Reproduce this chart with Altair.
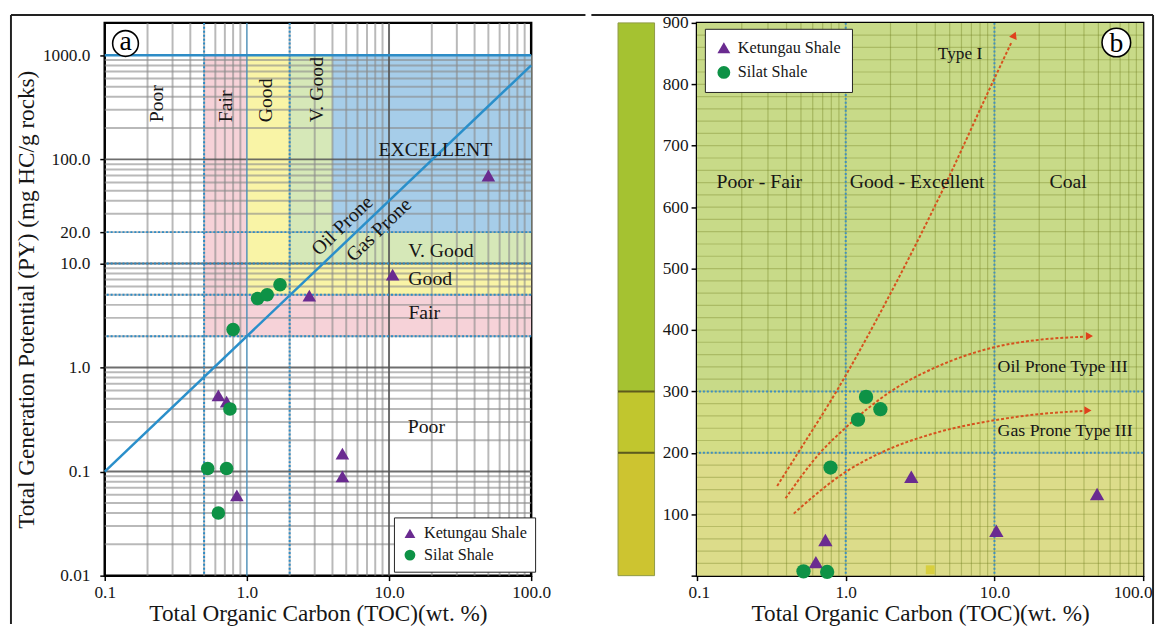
import altair as alt
import pandas as pd

FONT = "Liberation Serif"
INK = "#161616"
PURPLE = "#6a2b90"
GREEN = "#0e9246"
BLUE = "#2d8cc6"
RED = "#d6521e"
FORMS = ["Ketungau Shale", "Silat Shale"]

# ---------------- panel (a): TOC vs PY (log-log) ----------------
ket_a_toc = [50.0, 10.6, 2.75, 0.63, 0.72, 4.7, 4.7, 0.85]
ket_a_py = [70.0, 7.8, 4.9, 0.54, 0.47, 0.149, 0.090, 0.059]
sil_a_toc = [1.19, 1.39, 1.71, 0.80, 0.76, 0.53, 0.72, 0.63]
sil_a_py = [4.6, 5.0, 6.25, 2.32, 0.40, 0.107, 0.107, 0.040]

zone_toc_min = [0.5, 1.0, 2.0, 4.0]
zone_py_min = [2.0, 5.0, 10.0, 20.0]
zone_colors = ["#f6d2d8", "#f9f4a6", "#d6e8b8", "#a6cde9"]

diag_toc = [0.1, 100.0]
diag_py = [0.1, 800.0]

a_ticks_x = [0.1, 1, 10, 100]
a_ticks_y = [0.01, 0.1, 1, 10, 20, 100, 1000]
a_dot_x = [0.5, 2.0]
a_dot_y = [2.0, 5.0, 10.0, 20.0]

col_lbl_text = ["Poor", "Fair", "Good", "V. Good"]
col_lbl_toc = [0.232, 0.714, 1.37, 3.14]
col_lbl_py = [227, 227, 227, 227]

row_lbl_text = ["EXCELLENT", "V. Good", "Good", "Fair", "Poor"]
row_lbl_toc = [21.2, 23.2, 19.5, 17.7, 18.3]
row_lbl_py = [124, 13.2, 7.1, 3.3, 0.265]

prone_text = ["Oil Prone", "Gas Prone"]
prone_toc = [4.7, 8.5]
prone_py = [23.0, 21.0]

# ---------------- panel (b): TOC vs HI ----------------
ket_b_toc = [2.76, 49.0, 10.3, 0.73, 0.63]
ket_b_hi = [161, 133, 73, 58, 22]
sil_b_toc = [1.37, 1.71, 1.21, 0.79, 0.52, 0.75]
sil_b_hi = [291, 271, 254, 176, 7, 6]

band_lo = [0, 200, 300]
band_hi = [200, 300, 900]
band_colors = ["#dcdc8a", "#d3dd86", "#c8da88"]
bar_colors = ["#cdc430", "#c1c62e", "#a5c231"]

typeI_toc = [0.346, 0.478, 0.866, 1.86, 4.7, 9.5, 13.0]
typeI_hi = [146, 200, 300, 445, 638, 798, 868]
oil_toc = [0.394, 0.672, 1.0, 2.01, 4.1, 10.0, 20.0, 40.0]
oil_hi = [126, 200, 241, 300, 340, 372, 384, 389]
gas_toc = [0.447, 1.0, 1.72, 4.1, 10.0, 20.0, 39.0]
gas_hi = [101, 169, 200, 233, 253, 263, 268]

b_ticks_x = [0.1, 1, 10, 100]
b_ticks_y = [0, 100, 200, 300, 400, 500, 600, 700, 800, 900]
b_dot_x = [1.0, 10.0]
b_dot_y = [200, 300]

zone_b_text = ["Poor - Fair", "Good - Excellent", "Coal"]
zone_b_toc = [0.262, 3.02, 31.3]
zone_b_hi = [640, 640, 640]

kero_text = ["Oil Prone Type III", "Gas Prone Type III"]
kero_toc = [10.5, 10.5]
kero_hi = [340, 235]

# grid positions (log decades 1..9, linear every 20)
minor_x = [d * m for d in (0.1, 1, 10) for m in range(2, 10)]
major_x = [1, 10]
a_minor_y = [d * m for d in (0.01, 0.1, 1, 10, 100) for m in range(2, 10)]
a_major_y = [0.1, 1, 10, 100]
b_grid_y = [v for v in range(20, 900, 20)]

xs_a = alt.Scale(type="log", domain=[0.1, 100], nice=False)
ys_a = alt.Scale(type="log", domain=[0.01, 2050], nice=False)
xs_b = alt.Scale(type="log", domain=[0.1, 100], nice=False)
ys_b = alt.Scale(domain=[0, 900], nice=False, zero=False)

ax_common = dict(labelFont=FONT, labelFontSize=17.5, labelColor=INK, titleFont=FONT,
                 titleFontSize=23.5, titleFontWeight="normal", titleColor=INK,
                 tickColor="black", tickWidth=1.5, domain=False, grid=False,
                 labelOverlap=False)

X_TITLE = "Total Organic Carbon (TOC)(wt. %)"
axis_xa = alt.Axis(values=a_ticks_x, labelExpr="format(datum.value, '.1f')", tickSize=5,
                   labelPadding=3, titlePadding=1, title=X_TITLE, labelFlush=False, **ax_common)
axis_ya = alt.Axis(values=a_ticks_y,
                   labelExpr="datum.value < 0.05 ? '0.01' : format(datum.value, '.1f')",
                   tickSize=5, labelPadding=10, titlePadding=4, labelFlush=False,
                   title="Total Generation Potential (PY) (mg HC/g rocks)", **ax_common)
axis_xb = alt.Axis(values=b_ticks_x, labelExpr="format(datum.value, '.1f')", tickSize=5,
                   labelPadding=3, titlePadding=1, title=X_TITLE, labelFlush=True,
                   labelFlushOffset=9, **ax_common)
axis_yb = alt.Axis(values=b_ticks_y, labelExpr="datum.value == 0 ? '' : datum.label",
                   tickSize=6, labelPadding=3, title="", labelFlush=False, **ax_common)

one = pd.DataFrame({"d": [0]})


def X(field, xs, axis=None):
    if axis is None:
        return alt.X(field, scale=xs)
    return alt.X(field, scale=xs, axis=axis)


def Y(field, ys, axis=None):
    if axis is None:
        return alt.Y(field, scale=ys)
    return alt.Y(field, scale=ys, axis=axis)


def rect(x0, x1, y0, y1, color, xs, ys, xaxis=None, yaxis=None):
    df = pd.DataFrame({"x0": [x0], "x1": [x1], "y0": [y0], "y1": [y1]})
    return alt.Chart(df).mark_rect(color=color, opacity=1).encode(
        x=X("x0:Q", xs, xaxis), x2="x1", y=Y("y0:Q", ys, yaxis), y2="y1")


def vrules(vals, xs, color, width, opacity=1.0, dash=None):
    kw = dict(color=color, strokeWidth=width, opacity=opacity)
    if dash:
        kw["strokeDash"] = dash
    return alt.Chart(pd.DataFrame({"v": vals})).mark_rule(**kw).encode(x=X("v:Q", xs))


def hrules(vals, ys, color, width, opacity=1.0, dash=None):
    kw = dict(color=color, strokeWidth=width, opacity=opacity)
    if dash:
        kw["strokeDash"] = dash
    return alt.Chart(pd.DataFrame({"v": vals})).mark_rule(**kw).encode(y=Y("v:Q", ys))


def texts(xv, yv, tv, xs, ys, size, **kw):
    df = pd.DataFrame({"x": xv, "y": yv, "t": tv})
    return alt.Chart(df).mark_text(font=FONT, fontSize=size, color=INK, **kw).encode(
        x=X("x:Q", xs), y=Y("y:Q", ys), text="t:N")


def points(toc_k, v_k, toc_s, v_s, xs, ys, legend, size):
    df = pd.DataFrame({"TOC": toc_k + toc_s, "V": v_k + v_s,
                       "Formation": [FORMS[0]] * len(toc_k) + [FORMS[1]] * len(toc_s)})
    return alt.Chart(df).mark_point(filled=True, opacity=1, size=size).encode(
        x=X("TOC:Q", xs), y=Y("V:Q", ys),
        color=alt.Color("Formation:N", scale=alt.Scale(domain=FORMS, range=[PURPLE, GREEN]), legend=legend),
        shape=alt.Shape("Formation:N", scale=alt.Scale(domain=FORMS, range=["triangle-up", "circle"]), legend=legend))


def badge(x, y, letter, xs, ys, size, dy):
    df = pd.DataFrame({"x": [x], "y": [y], "t": [letter]})
    base = alt.Chart(df).encode(x=X("x:Q", xs), y=Y("y:Q", ys))
    c = base.mark_point(shape="circle", fill="white", fillOpacity=1, stroke="black",
                        strokeWidth=1.6, size=size, opacity=1)
    t = base.mark_text(font=FONT, fontSize=28, color="black", baseline="alphabetic", dy=dy).encode(text="t:N")
    return [c, t]


def legend_at(x, y, pad, rowpad, symsize):
    return alt.Legend(orient="none", legendX=x, legendY=y, title=None, fillColor="white",
                      strokeColor="#222", padding=pad, rowPadding=rowpad, symbolSize=symsize,
                      labelFont=FONT, labelFontSize=16.4, labelColor=INK, labelOffset=6,
                      symbolStrokeWidth=0)


# ---------------- build panel a ----------------
la = []
for i in range(4):
    la.append(rect(zone_toc_min[i], 100, zone_py_min[i], 1000, zone_colors[i], xs_a, ys_a,
                   xaxis=axis_xa if i == 0 else None, yaxis=axis_ya if i == 0 else None))
la.append(vrules(minor_x, xs_a, "#8a8a8a", 2, 0.6))
la.append(hrules(a_minor_y, ys_a, "#8a8a8a", 2, 0.6))
la.append(vrules([10], xs_a, "#555555", 2, 0.85))
la.append(hrules(a_major_y, ys_a, "#555555", 2, 0.85))
la.append(vrules([1], xs_a, "#4b8fb8", 1.6, 0.9))
la.append(vrules(a_dot_x, xs_a, BLUE, 2, 1, [2, 2]))
la.append(hrules(a_dot_y, ys_a, BLUE, 2, 1, [2, 2]))
la.append(hrules([1000], ys_a, BLUE, 2.5))
la.append(alt.Chart(pd.DataFrame({"x": diag_toc, "y": diag_py})).mark_line(color="#2a8fca", strokeWidth=2.5).encode(
    x=X("x:Q", xs_a), y=Y("y:Q", ys_a)))
la.append(texts(col_lbl_toc, col_lbl_py, col_lbl_text, xs_a, ys_a, 20, angle=270, align="left", baseline="middle"))
la.append(texts(row_lbl_toc, row_lbl_py, row_lbl_text, xs_a, ys_a, 20, align="center", baseline="middle"))
la.append(texts(prone_toc, prone_py, prone_text, xs_a, ys_a, 20, angle=316, align="center", baseline="middle"))
la.append(points(ket_a_toc, ket_a_py, sil_a_toc, sil_a_py, xs_a, ys_a, legend_at(293, 501, 8, 5, 120), 190))
la.extend(badge(0.14, 1300, "a", xs_a, ys_a, 680, 7))
la.append(alt.Chart(one).mark_rule(color="#222", strokeWidth=2).encode(
    x=alt.value(-95), x2=alt.value(487), y=alt.value(-8)))
la.append(alt.Chart(one).mark_rule(color="#222", strokeWidth=2).encode(
    x=alt.value(-95), y=alt.value(-8), y2=alt.value(609)))
panel_a = alt.layer(*la).properties(width=432, height=560)

# ---------------- build panel b ----------------
lb = []
for i in range(3):
    lb.append(rect(0.1, 100, band_lo[i], band_hi[i], band_colors[i], xs_b, ys_b,
                   xaxis=axis_xb if i == 0 else None, yaxis=axis_yb if i == 0 else None))
for i in range(3):
    df = pd.DataFrame({"y0": [band_lo[i]], "y1": [band_hi[i]]})
    lb.append(alt.Chart(df).mark_rect(color=bar_colors[i], stroke="#8f9a45", strokeWidth=1, opacity=1).encode(
        x=alt.value(-80), x2=alt.value(-43), y=Y("y0:Q", ys_b), y2="y1"))
lb.append(alt.Chart(pd.DataFrame({"v": b_dot_y})).mark_rule(color="#5e5a1c", strokeWidth=2).encode(
    x=alt.value(-80), x2=alt.value(-43), y=Y("v:Q", ys_b)))
lb.append(vrules(minor_x + major_x, xs_b, "#6f7d1e", 1.2, 0.38))
lb.append(hrules(b_grid_y, ys_b, "#6f7d1e", 1.2, 0.33))
lb.append(vrules(b_dot_x, xs_b, "#3f8fbf", 2, 1, [2, 2]))
lb.append(hrules(b_dot_y, ys_b, "#3f8fbf", 2, 1, [2, 2]))
curves = pd.DataFrame({
    "x": typeI_toc + oil_toc + gas_toc,
    "y": typeI_hi + oil_hi + gas_hi,
    "c": ["I"] * len(typeI_toc) + ["oil"] * len(oil_toc) + ["gas"] * len(gas_toc)})
lb.append(alt.Chart(curves).mark_line(color=RED, strokeWidth=2, strokeDash=[3, 2], interpolate="monotone").encode(
    x=X("x:Q", xs_b), y=Y("y:Q", ys_b), detail="c:N"))
heads_r = pd.DataFrame({"x": [43.5, 42.5], "y": [390, 269]})
lb.append(alt.Chart(heads_r).mark_point(shape="triangle-right", filled=True, color="#e0401c", size=70, opacity=1).encode(
    x=X("x:Q", xs_b), y=Y("y:Q", ys_b)))
heads_u = pd.DataFrame({"x": [13.6], "y": [880]})
lb.append(alt.Chart(heads_u).mark_point(shape="triangle-up", filled=True, color="#e0401c", size=70, angle=23, opacity=1).encode(
    x=X("x:Q", xs_b), y=Y("y:Q", ys_b)))
lb.append(texts(zone_b_toc, zone_b_hi, zone_b_text, xs_b, ys_b, 20, align="center", baseline="middle"))
lb.append(texts([5.87], [849], ["Type I"], xs_b, ys_b, 17.5, align="center", baseline="middle"))
lb.append(texts(kero_toc, kero_hi, kero_text, xs_b, ys_b, 18, align="left", baseline="middle"))
lb.append(alt.Chart(pd.DataFrame({"x": [3.7], "y": [9.6]})).mark_point(shape="square", filled=True, color="#d8cf3e", size=80, opacity=1).encode(
    x=X("x:Q", xs_b), y=Y("y:Q", ys_b)))
lb.append(points(ket_b_toc, ket_b_hi, sil_b_toc, sil_b_hi, xs_b, ys_b, legend_at(8, 6, 11, 8, 170), 210))
lb.extend(badge(66, 868, "b", xs_b, ys_b, 840, 10))
lb.append(alt.Chart(one).mark_rule(color="#222", strokeWidth=2).encode(
    x=alt.value(-107), x2=alt.value(462), y=alt.value(-8)))
lb.append(alt.Chart(one).mark_rule(color="#222", strokeWidth=2).encode(
    x=alt.value(462), y=alt.value(-8), y2=alt.value(609)))
panel_b = alt.layer(*lb).properties(width=452, height=560)

chart = alt.hconcat(panel_a, panel_b, spacing=0).resolve_scale(
    color="independent", shape="independent").resolve_legend(
    color="independent", shape="independent").properties(
    padding=0, background="white").configure_view(stroke="black", strokeWidth=2.5)

chart.save("out.html", embed_options={"renderer": "svg", "actions": False})
